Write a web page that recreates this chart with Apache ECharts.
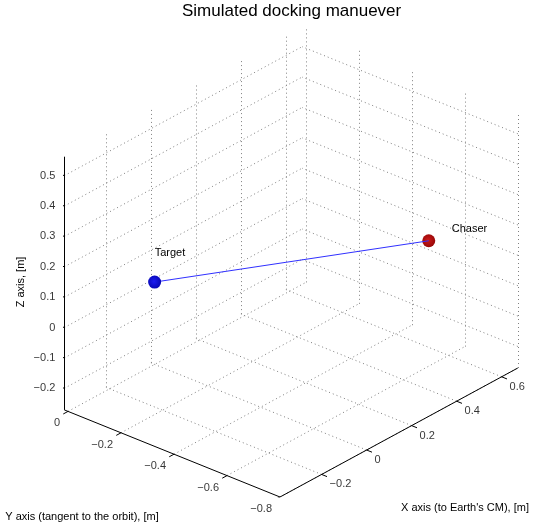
<!DOCTYPE html>
<html>
<head>
<meta charset="utf-8">
<script src="https://cdn.jsdelivr.net/npm/echarts@6/dist/echarts.min.js"></script>
<style>
  html, body { margin: 0; padding: 0; background: #fff; }
  #main { width: 536px; height: 529px; }
</style>
</head>
<body>
<div id="main"></div>
<script>
// axis limits and ticks (data units, metres)
var xLim = [-0.385, 0.672];
var yLim = [-0.8, 0.014];
var zLim = [-0.271, 0.5625];
var xTicks = [-0.2, 0, 0.2, 0.4, 0.6];
var yTicks = [0, -0.2, -0.4, -0.6, -0.8];
var zTicks = [-0.2, -0.1, 0, 0.1, 0.2, 0.3, 0.4, 0.5];

// bodies
var bodyNames = ["Target", "Chaser"];
var targetPos = [0, 0, 0];
var chaserPos = [0.5, -0.61, 0.15];

var FONT = "Liberation Sans, Arial, Helvetica, sans-serif";

// view: screen vectors of the box edges (px, up positive) and pixel of (xmin, ymin, zmin)
var P0 = [280, 497];
var EX = [237.8, 129];
var EY = [-215.7, 87.1];
var EZ = [0, 253.2];

function proj(p) {
  var nx = (p[0] - xLim[0]) / (xLim[1] - xLim[0]);
  var ny = (p[1] - yLim[0]) / (yLim[1] - yLim[0]);
  var nz = (p[2] - zLim[0]) / (zLim[1] - zLim[0]);
  return [
    nx * EX[0] + ny * EY[0] + nz * EZ[0],
    nx * EX[1] + ny * EY[1] + nz * EZ[1]
  ];
}

// projected extents of the box -> hidden 2d plane
var uMin = Infinity, uMax = -Infinity, vMin = Infinity, vMax = -Infinity;
[0, 1].forEach(function (i) {
  [0, 1].forEach(function (j) {
    [0, 1].forEach(function (k) {
      var q = proj([xLim[i], yLim[j], zLim[k]]);
      uMin = Math.min(uMin, q[0]); uMax = Math.max(uMax, q[0]);
      vMin = Math.min(vMin, q[1]); vMax = Math.max(vMax, q[1]);
    });
  });
});

function fmt(v) {
  return v < 0 ? "\u2212" + Math.abs(v) : String(v);
}

function seg(a, b) {
  return { coords: [proj(a), proj(b)] };
}

// dotted grid on the floor and two back walls
var gridSegs = [];
xTicks.forEach(function (x) {
  gridSegs.push(seg([x, yLim[0], zLim[0]], [x, yLim[1], zLim[0]]));
  gridSegs.push(seg([x, yLim[1], zLim[0]], [x, yLim[1], zLim[1]]));
});
yTicks.forEach(function (y) {
  gridSegs.push(seg([xLim[0], y, zLim[0]], [xLim[1], y, zLim[0]]));
  gridSegs.push(seg([xLim[1], y, zLim[0]], [xLim[1], y, zLim[1]]));
});
zTicks.forEach(function (z) {
  gridSegs.push(seg([xLim[0], yLim[1], z], [xLim[1], yLim[1], z]));
  gridSegs.push(seg([xLim[1], yLim[0], z], [xLim[1], yLim[1], z]));
});

// solid axes and tick marks
var dx = (xLim[1] - xLim[0]) * 0.02;
var dy = (yLim[1] - yLim[0]) * 0.025;
var axisSegs = [
  seg([xLim[0], yLim[0], zLim[0]], [xLim[1], yLim[0], zLim[0]]),
  seg([xLim[0], yLim[0], zLim[0]], [xLim[0], yLim[1], zLim[0]]),
  seg([xLim[0], yLim[1], zLim[0]], [xLim[0], yLim[1], zLim[1]])
];
xTicks.forEach(function (x) {
  axisSegs.push(seg([x, yLim[0], zLim[0]], [x, yLim[0] - dy, zLim[0]]));
});
yTicks.forEach(function (y) {
  axisSegs.push(seg([xLim[0], y, zLim[0]], [xLim[0] - dx, y, zLim[0]]));
});
zTicks.forEach(function (z) {
  axisSegs.push(seg([xLim[0], yLim[1], z], [xLim[0], yLim[1] + dy * 1.2, z]));
});

function labelSeries(items, align, offset) {
  return {
    type: "scatter",
    symbolSize: 1,
    silent: true,
    itemStyle: { color: "rgba(0,0,0,0)" },
    data: items,
    label: {
      show: true,
      position: "inside",
      formatter: "{b}",
      align: align,
      verticalAlign: "middle",
      offset: offset,
      color: "#000",
      fontSize: 11,
      fontFamily: FONT
    },
    z: 5
  };
}

var xLabels = xTicks.map(function (x) {
  return { name: fmt(x), value: proj([x, yLim[0], zLim[0]]) };
});
var yLabels = yTicks.map(function (y) {
  return { name: fmt(y), value: proj([xLim[0], y, zLim[0]]) };
});
var zLabels = zTicks.map(function (z) {
  return { name: fmt(z), value: proj([xLim[0], yLim[1], z]) };
});

function ball(c0, c1) {
  return {
    type: "radial", x: 0.45, y: 0.45, r: 0.6,
    colorStops: [{ offset: 0, color: c0 }, { offset: 1, color: c1 }]
  };
}

var myChart = echarts.init(document.getElementById("main"));

var option = {
  animation: false,
  backgroundColor: "#fff",
  title: {
    text: "Simulated docking manuever",
    left: 182,
    top: 3,
    padding: 0,
    textStyle: { fontSize: 17, fontWeight: "normal", color: "#000", fontFamily: FONT }
  },
  grid: {
    left: P0[0] + uMin,
    top: P0[1] - vMax,
    width: uMax - uMin,
    height: vMax - vMin
  },
  xAxis: { type: "value", min: uMin, max: uMax, show: false },
  yAxis: { type: "value", min: vMin, max: vMax, show: false },
  graphic: [
    {
      type: "text", x: 21, y: 282, rotation: Math.PI / 2,
      style: { text: "Z axis, [m]", fontSize: 11, fontFamily: FONT, fill: "#000", align: "center", verticalAlign: "middle" }
    },
    {
      type: "text", x: 82, y: 517,
      style: { text: "Y axis (tangent to the orbit), [m]", fontSize: 11, fontFamily: FONT, fill: "#000", align: "center", verticalAlign: "middle" }
    },
    {
      type: "text", x: 465, y: 508,
      style: { text: "X axis (to Earth's CM), [m]", fontSize: 11, fontFamily: FONT, fill: "#000", align: "center", verticalAlign: "middle" }
    }
  ],
  series: [
    {
      type: "lines",
      coordinateSystem: "cartesian2d",
      silent: true,
      data: gridSegs,
      lineStyle: { color: "#808080", width: 1, type: [1, 3], opacity: 1 },
      z: 1
    },
    {
      type: "lines",
      coordinateSystem: "cartesian2d",
      silent: true,
      data: axisSegs,
      lineStyle: { color: "#000", width: 1, type: "solid", opacity: 1 },
      z: 2
    },
    labelSeries(xLabels, "left", [8, 10]),
    labelSeries(yLabels, "right", [-8, 12]),
    labelSeries(zLabels, "right", [-9, 0]),
    {
      type: "scatter",
      name: bodyNames[1],
      symbolSize: 13,
      silent: true,
      data: [{ name: bodyNames[1], value: proj(chaserPos) }],
      itemStyle: { color: ball("#cc1a1a", "#940606"), opacity: 1 },
      label: {
        show: true, position: "inside", formatter: "{b}", align: "left", verticalAlign: "middle",
        offset: [23, -12], color: "#000", fontSize: 11, fontFamily: FONT
      },
      z: 3
    },
    {
      type: "line",
      silent: true,
      showSymbol: false,
      data: [proj(targetPos), proj(chaserPos)],
      lineStyle: { color: "#3030ff", width: 1 },
      z: 4
    },
    {
      type: "scatter",
      name: bodyNames[0],
      symbolSize: 13,
      silent: true,
      data: [{ name: bodyNames[0], value: proj(targetPos) }],
      itemStyle: { color: ball("#1c1cf0", "#0505b0"), opacity: 1 },
      label: {
        show: true, position: "inside", formatter: "{b}", align: "left", verticalAlign: "middle",
        offset: [0, -29], color: "#000", fontSize: 11, fontFamily: FONT
      },
      z: 5
    }
  ]
};

myChart.setOption(option);
</script>
</body>
</html>
